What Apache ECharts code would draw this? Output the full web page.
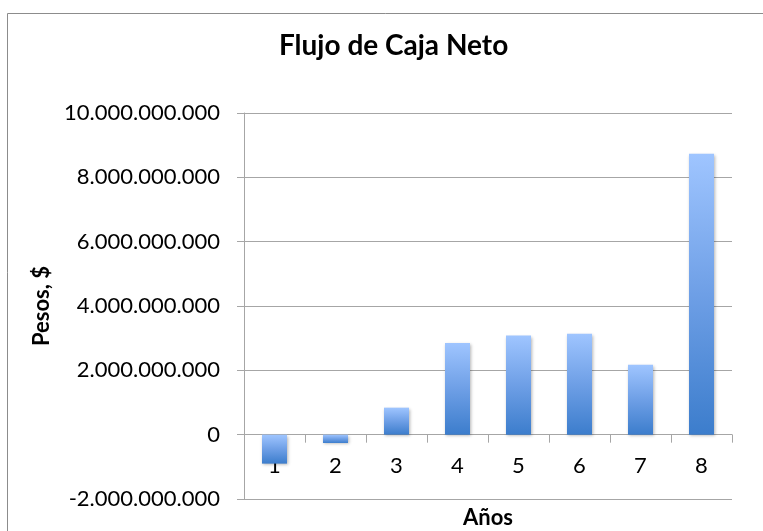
<!DOCTYPE html>
<html>
<head>
<meta charset="utf-8">
<script src="https://cdn.jsdelivr.net/npm/echarts@6/dist/echarts.min.js"></script>
<style>
  html, body { margin: 0; padding: 0; background: #fff; }
  #chart { width: 763px; height: 531px; }
</style>
</head>
<body>
<div id="chart"></div>
<script>
// Años del proyecto y flujo de caja neto (pesos)
const years = ['1', '2', '3', '4', '5', '6', '7', '8'];
const netCashFlow = [-900000000, -260000000, 840000000, 2850000000, 3080000000, 3140000000, 2170000000, 8730000000];
const yMin = -2000000000;
const yMax = 10000000000;
const yStep = 2000000000;

const FONT = 'Lato, "Open Sans", sans-serif';

function formatPesos(v) {
  const neg = v < 0;
  const s = Math.abs(Math.round(v)).toString().replace(/\B(?=(\d{3})+(?!\d))/g, '.');
  return (neg ? '-' : '') + s;
}

const chart = echarts.init(document.getElementById('chart'), null, { renderer: 'canvas' });

chart.setOption({
  animation: false,
  backgroundColor: '#fff',
  graphic: [{
    type: 'rect',
    left: 5, top: 11,
    shape: { width: 800, height: 560 },
    style: { fill: 'none', stroke: '#8c8c8c', lineWidth: 1 },
    silent: true
  }],
  title: {
    text: 'Flujo de Caja Neto',
    left: 274,
    top: 27,
    textStyle: { fontFamily: FONT, fontSize: 28, fontWeight: 'bold', color: '#000' }
  },
  grid: { left: 244, right: 31, top: 113, bottom: 32, containLabel: false, outerBoundsMode: 'none' },
  xAxis: {
    type: 'category',
    data: years,
    name: 'Años',
    nameLocation: 'middle',
    nameGap: 8,
    nameTextStyle: { fontFamily: FONT, fontSize: 22, fontWeight: 'bold', color: '#000', verticalAlign: 'top' },
    axisLine: { onZero: true, lineStyle: { color: '#a6a6a6', width: 1 } },
    axisTick: { show: true, alignWithLabel: false, inside: false, length: 8, lineStyle: { color: '#a6a6a6' } },
    axisLabel: { fontFamily: FONT, fontSize: 22, color: '#000', margin: -44 },
    splitLine: { show: false }
  },
  yAxis: {
    type: 'value',
    min: yMin,
    max: yMax,
    interval: yStep,
    name: 'Pesos, $',
    nameLocation: 'middle',
    nameGap: 190,
    nameRotate: 90,
    nameTextStyle: { fontFamily: FONT, fontSize: 22, fontWeight: 'bold', color: '#000' },
    axisLine: { show: true, lineStyle: { color: '#a6a6a6', width: 1 } },
    axisTick: { show: true, length: 7, lineStyle: { color: '#a6a6a6' } },
    axisLabel: { fontFamily: FONT, fontSize: 22, color: '#000', margin: 24, formatter: formatPesos },
    splitLine: { show: true, lineStyle: { color: '#a6a6a6', width: 1 } }
  },
  series: [{
    type: 'bar',
    data: netCashFlow,
    barWidth: 25,
    itemStyle: {
      color: new echarts.graphic.LinearGradient(0, 0, 0, 1, [
        { offset: 0, color: '#9fc5ff' },
        { offset: 0.5, color: '#6e9fe6' },
        { offset: 1, color: '#3c7dcc' }
      ]),
      shadowBlur: 3,
      shadowOffsetX: 1,
      shadowOffsetY: 1,
      shadowColor: 'rgba(0,0,0,0.3)'
    }
  }]
});
</script>
</body>
</html>
